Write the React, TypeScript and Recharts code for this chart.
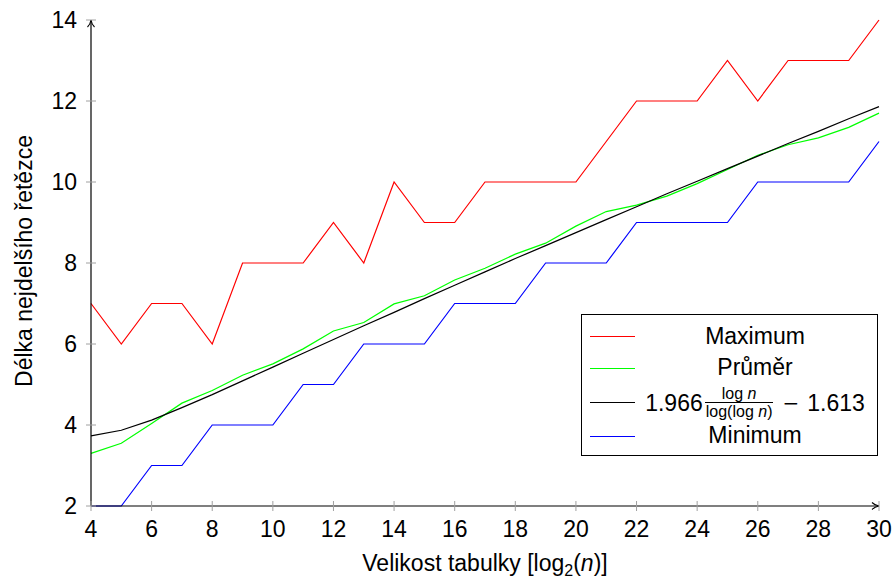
import React from 'react';
import { LineChart, Line, XAxis, YAxis } from 'recharts';

// log2(n) on the x axis
const sizes = [4, 5, 6, 7, 8, 9, 10, 11, 12, 13, 14, 15, 16, 17, 18, 19, 20, 21, 22, 23, 24, 25, 26, 27, 28, 29, 30];
const maxValues = [7, 6, 7, 7, 6, 8, 8, 8, 9, 8, 10, 9, 9, 10, 10, 10, 10, 11, 12, 12, 12, 13, 12, 13, 13, 13, 14];
const avgValues = [3.3, 3.55, 4.04, 4.54, 4.85, 5.23, 5.51, 5.88, 6.32, 6.53, 6.99, 7.19, 7.58, 7.87, 8.22, 8.49, 8.91, 9.27, 9.43, 9.65, 9.96, 10.31, 10.66, 10.92, 11.09, 11.35, 11.7];
const fitValues = [3.73, 3.87, 4.12, 4.43, 4.75, 5.09, 5.43, 5.77, 6.11, 6.45, 6.78, 7.12, 7.45, 7.78, 8.11, 8.43, 8.75, 9.07, 9.39, 9.71, 10.02, 10.33, 10.64, 10.95, 11.25, 11.56, 11.86];
const minValues = [2, 2, 3, 3, 4, 4, 4, 5, 5, 6, 6, 6, 7, 7, 7, 8, 8, 8, 9, 9, 9, 9, 10, 10, 10, 10, 11];

const xTicks = [4, 6, 8, 10, 12, 14, 16, 18, 20, 22, 24, 26, 28, 30];
const yTicks = [2, 4, 6, 8, 10, 12, 14];

const data = sizes.map((x, i) => ({
  x,
  max: maxValues[i],
  avg: avgValues[i],
  fit: fitValues[i],
  min: minValues[i],
}));

const FONT = '"Liberation Sans", Arial, Helvetica, sans-serif';
const TICK_GREY = '#a0a0a0';

const XTick = (props: any) => {
  const { x, y, payload } = props;
  return (
    <g>
      <line x1={x} x2={x} y1={y - 5} y2={y + 5} stroke={TICK_GREY} strokeWidth={1} />
      <text x={x} y={y + 30.5} textAnchor="middle" fontSize={23} fontFamily={FONT} fill="#000">
        {payload.value}
      </text>
    </g>
  );
};

const YTick = (props: any) => {
  const { x, y, payload } = props;
  return (
    <g>
      <line x1={x - 5} x2={x + 5} y1={y} y2={y} stroke={TICK_GREY} strokeWidth={1} />
      <text x={x - 14} y={y + 8} textAnchor="end" fontSize={23} fontFamily={FONT} fill="#000">
        {payload.value}
      </text>
    </g>
  );
};

const legendRows = [
  { key: 'max', color: '#ff0000', top: 21.7 },
  { key: 'avg', color: '#00ff00', top: 53.3 },
  { key: 'fit', color: '#000000', top: 87.7 },
  { key: 'min', color: '#0000ff', top: 121 },
];

const LegendText = ({ k }: { k: string }) => {
  if (k === 'max') return <span>Maximum</span>;
  if (k === 'avg') return <span>Průměr</span>;
  if (k === 'min') return <span>Minimum</span>;
  return (
    <span style={{ display: 'inline-flex', alignItems: 'center', position: 'relative', top: 1 }}>
      <span>1.966</span>
      <span
        style={{
          display: 'inline-flex',
          flexDirection: 'column',
          alignItems: 'center',
          fontSize: 16,
          lineHeight: '15px',
          margin: '0 3px 0 3px',
        }}
      >
        <span style={{ borderBottom: '1px solid #000', padding: '0 1px 1px 1px', width: '100%', textAlign: 'center' }}>
          log <i>n</i>
        </span>
        <span style={{ paddingTop: 1 }}>
          log(log <i>n</i>)
        </span>
      </span>
      <span style={{ margin: '0 8px 0 7px', fontFamily: '"DejaVu Sans", sans-serif', fontSize: 20 }}>−</span>
      <span>1.613</span>
    </span>
  );
};

export default function App() {
  return (
    <div style={{ position: 'absolute', left: 0, top: 0, width: 893, height: 577, background: '#fff', fontFamily: FONT }}>
      <LineChart width={893} height={577} data={data} margin={{ top: 20, right: 14, bottom: 0, left: 0 }}>
        <defs>
          <marker id="axisArrow" viewBox="-8 -5 10 10" refX={0} refY={0} markerWidth={10} markerHeight={10} markerUnits="userSpaceOnUse" orient="auto-start-reverse">
            <path d="M-7,-3.5 C-5,-1.5 -2.5,-0.4 0,0 C-2.5,0.4 -5,1.5 -7,3.5" fill="none" stroke="#000" strokeWidth={1.1} />
          </marker>
        </defs>
        <XAxis
          dataKey="x"
          type="number"
          domain={[4, 30]}
          ticks={xTicks}
          interval={0}
          height={71}
          tickSize={0}
          tickMargin={0}
          tickLine={false}
          tick={(p: any) => <XTick {...p} />}
          axisLine={{ stroke: '#000', strokeWidth: 1.2, markerEnd: 'url(#axisArrow)' }}
        />
        <YAxis
          type="number"
          domain={[2, 14]}
          ticks={yTicks}
          interval={0}
          width={91}
          tickSize={0}
          tickMargin={0}
          tickLine={false}
          tick={(p: any) => <YTick {...p} />}
          axisLine={{ stroke: '#000', strokeWidth: 1.2, markerStart: 'url(#axisArrow)' }}
        />
        <Line dataKey="max" stroke="#ff0000" strokeWidth={1.2} dot={false} isAnimationActive={false} />
        <Line dataKey="avg" stroke="#00ff00" strokeWidth={1.2} dot={false} isAnimationActive={false} />
        <Line dataKey="fit" stroke="#000000" strokeWidth={1.2} dot={false} isAnimationActive={false} />
        <Line dataKey="min" stroke="#0000ff" strokeWidth={1.2} dot={false} isAnimationActive={false} />
      </LineChart>

      {/* axis titles */}
      <div
        style={{
          position: 'absolute',
          left: 485,
          top: 564,
          transform: 'translate(-50%, -50%)',
          fontSize: 23,
          whiteSpace: 'nowrap',
          lineHeight: '26px',
        }}
      >
        Velikost tabulky [log<span style={{ fontSize: 16, position: 'relative', top: 5 }}>2</span>(<i>n</i>)]
      </div>
      <div
        style={{
          position: 'absolute',
          left: 24,
          top: 261,
          transform: 'translate(-50%, -50%) rotate(-90deg)',
          fontSize: 23,
          whiteSpace: 'nowrap',
          lineHeight: '26px',
        }}
      >
        Délka nejdelšího řetězce
      </div>

      {/* legend */}
      <div
        style={{
          position: 'absolute',
          left: 581,
          top: 314,
          width: 297,
          height: 142,
          border: '1px solid #000',
          boxSizing: 'border-box',
          background: '#fff',
          fontSize: 23,
          lineHeight: '22px',
        }}
      >
        {legendRows.map((r) => (
          <div key={r.key} style={{ position: 'absolute', left: 0, right: 0, top: r.top - 14, height: 32 }}>
            <div style={{ position: 'absolute', left: 8, width: 45, top: 13.5, height: 0, borderTop: `1.2px solid ${r.color}` }} />
            <div
              style={{
                position: 'absolute',
                left: 57,
                width: 232,
                top: -3,
                height: 32,
                display: 'flex',
                alignItems: 'center',
                justifyContent: 'center',
                whiteSpace: 'nowrap',
              }}
            >
              <LegendText k={r.key} />
            </div>
          </div>
        ))}
      </div>
    </div>
  );
}
